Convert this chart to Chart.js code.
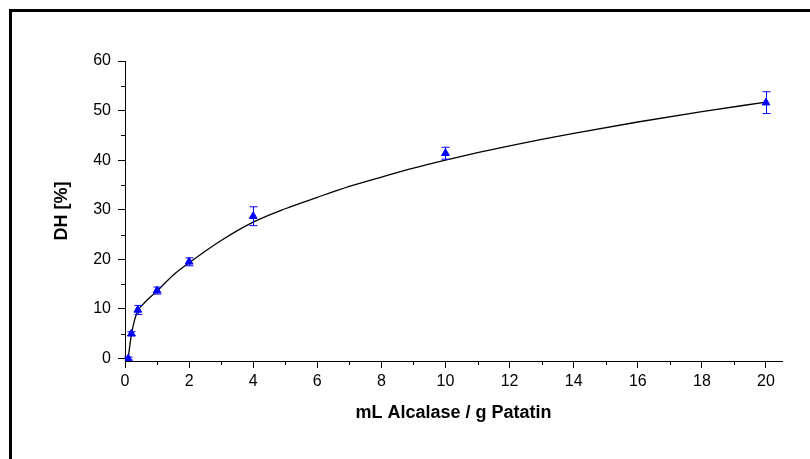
<!DOCTYPE html>
<html>
<head>
<meta charset="utf-8">
<script src="https://cdn.jsdelivr.net/npm/chart.js@4"></script>
<style>
  html, body { margin: 0; padding: 0; background: #fff; overflow: hidden; }
  #frame { position: absolute; left: 9px; top: 9px; width: 900px; height: 600px; border: 3px solid #000; }
  #chart { position: absolute; left: 0; top: 0; }
</style>
</head>
<body>
<div id="frame"></div>
<canvas id="chart" width="810" height="459"></canvas>
<script>
// measured points (mean +/- error)
const doseX = [0.1, 0.2, 0.4, 1, 2, 4, 10, 20];
const dhMean = [0, 5.0, 9.8, 13.7, 19.5, 28.7, 41.4, 51.6];
const dhErr = [0.3, 0.4, 0.9, 0.7, 0.8, 1.9, 1.2, 2.2];

// fitted curve
const fitX = [0.1, 0.15, 0.2, 0.3, 0.4, 0.6, 1, 1.5, 2, 3, 4, 5, 6, 7, 8, 9, 10, 11, 12, 13, 14, 16, 18, 20];
const fitY = [0, 2.6, 4.8, 7.8, 9.6, 11.2, 13.6, 16.8, 19.3, 23.8, 27.5, 30.2, 32.5, 34.7, 36.6, 38.4, 40.0, 41.5, 42.9, 44.2, 45.4, 47.7, 49.8, 51.7];

const xMinorTicks = [1, 3, 5, 7, 9, 11, 13, 15, 17, 19];
const yMinorTicks = [5, 15, 25, 35, 45, 55];

const pointData = doseX.map((x, i) => ({ x: x, y: dhMean[i] }));
const fitData = fitX.map((x, i) => ({ x: x, y: fitY[i] }));

// error bars + minor ticks
const extras = {
  id: "extras",
  afterDatasetsDraw(chart) {
    const ctx = chart.ctx;
    const xs = chart.scales.x;
    const ys = chart.scales.y;
    ctx.save();
    ctx.strokeStyle = "#0000ff";
    ctx.lineWidth = 1;
    doseX.forEach((x, i) => {
      const px = Math.round(xs.getPixelForValue(x)) + 0.5;
      const top = ys.getPixelForValue(dhMean[i] + dhErr[i]);
      const bot = ys.getPixelForValue(dhMean[i] - dhErr[i]);
      ctx.beginPath();
      ctx.moveTo(px, top);
      ctx.lineTo(px, bot);
      ctx.moveTo(px - 4, top);
      ctx.lineTo(px + 4, top);
      ctx.moveTo(px - 4, bot);
      ctx.lineTo(px + 4, bot);
      ctx.stroke();
    });
    ctx.restore();
  },
  afterDraw(chart) {
    const ctx = chart.ctx;
    const xs = chart.scales.x;
    const ys = chart.scales.y;
    const area = chart.chartArea;
    ctx.save();
    ctx.strokeStyle = "#000";
    ctx.lineWidth = 1;
    ctx.beginPath();
    xMinorTicks.forEach((v) => {
      const px = Math.round(xs.getPixelForValue(v)) + 0.5;
      ctx.moveTo(px, area.bottom);
      ctx.lineTo(px, area.bottom + 4);
    });
    yMinorTicks.forEach((v) => {
      const py = Math.round(ys.getPixelForValue(v)) + 0.5;
      ctx.moveTo(area.left - 4, py);
      ctx.lineTo(area.left, py);
    });
    ctx.stroke();
    ctx.restore();
  },
};

const tickFont = { family: "'Liberation Sans', Arial, sans-serif", size: 16 };
const titleFont = { family: "'Liberation Sans', Arial, sans-serif", size: 18, weight: "bold" };

new Chart(document.getElementById("chart").getContext("2d"), {
  type: "scatter",
  data: {
    datasets: [
      {
        label: "fit",
        data: fitData,
        showLine: true,
        borderColor: "#000",
        borderWidth: 1.3,
        pointRadius: 0,
        cubicInterpolationMode: "monotone",
        order: 1,
      },
      {
        label: "DH",
        data: pointData,
        pointStyle: "triangle",
        pointRadius: 4.5,
        backgroundColor: "#0000ff",
        borderColor: "#0000ff",
        borderWidth: 1,
        order: 0,
      },
    ],
  },
  options: {
    responsive: false,
    animation: false,
    devicePixelRatio: 1,
    layout: { padding: { left: 10, top: 61, right: 28, bottom: 0 } },
    plugins: { legend: { display: false }, tooltip: { enabled: false } },
    scales: {
      x: {
        type: "linear",
        min: 0,
        max: 20.5,
        afterFit: (s) => { s.height = 98; },
        ticks: { stepSize: 2, includeBounds: false, color: "#000", font: tickFont, padding: 4, maxRotation: 0 },
        grid: { drawOnChartArea: false, drawTicks: true, tickLength: 7, color: "#000" },
        border: { display: true, color: "#000", width: 1 },
        title: { display: true, text: "mL Alcalase / g Patatin", color: "#000", font: titleFont, padding: { top: 0, bottom: 35 } },
      },
      y: {
        type: "linear",
        min: -0.5,
        max: 60,
        afterFit: (s) => { s.width = 115; },
        ticks: { stepSize: 10, includeBounds: false, color: "#000", font: tickFont, padding: 7 },
        grid: { drawOnChartArea: false, drawTicks: true, tickLength: 7, color: "#000" },
        border: { display: true, color: "#000", width: 1 },
        title: { display: true, text: "DH [%]", color: "#000", font: titleFont, padding: { top: 41, bottom: 0 } },
      },
    },
  },
  plugins: [extras],
});
</script>
</body>
</html>
